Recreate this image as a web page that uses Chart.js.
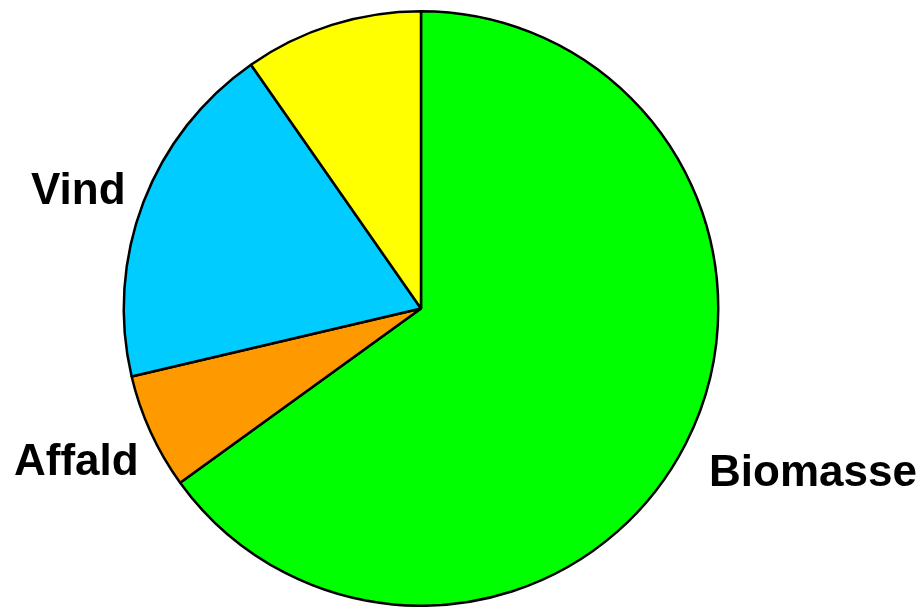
<!DOCTYPE html>
<html>
<head>
<meta charset="utf-8">
<script src="https://cdn.jsdelivr.net/npm/chart.js@4/dist/chart.umd.min.js"></script>
<style>
html,body{margin:0;padding:0;background:#fff;}
#wrap{width:924px;height:607px;position:relative;}
</style>
</head>
<body>
<div id="wrap"><canvas id="c" width="924" height="607"></canvas></div>
<script>
const categories = ["Biomasse", "Affald", "Vind", ""];
const values = [65.1, 6.3, 19.0, 9.7];
const colors = ["#00FF00", "#FF9900", "#00CCFF", "#FFFF00"];
const labelSpots = [
  {i: 0, x: 709, y: 486},
  {i: 1, x: 14, y: 475},
  {i: 2, x: 31, y: 204}
];

const labelPlugin = {
  id: 'sliceLabels',
  afterDraw(chart) {
    const ctx = chart.ctx;
    ctx.save();
    ctx.font = 'bold 44px "Liberation Sans", Arial, sans-serif';
    ctx.fillStyle = '#000';
    ctx.textAlign = 'left';
    ctx.textBaseline = 'alphabetic';
    labelSpots.forEach(s => {
      ctx.fillText(chart.data.labels[s.i], s.x, s.y);
    });
    ctx.restore();
  }
};

new Chart(document.getElementById('c'), {
  type: 'pie',
  data: {
    labels: categories,
    datasets: [{
      data: values,
      backgroundColor: colors,
      borderColor: '#000',
      borderWidth: 2.5,
      borderAlign: 'center'
    }]
  },
  options: {
    responsive: false,
    animation: false,
    layout: {padding: {left: 2, right: 84, top: 10, bottom: 0}},
    plugins: {legend: {display: false}, tooltip: {enabled: false}}
  },
  plugins: [labelPlugin]
});
</script>
</body>
</html>
